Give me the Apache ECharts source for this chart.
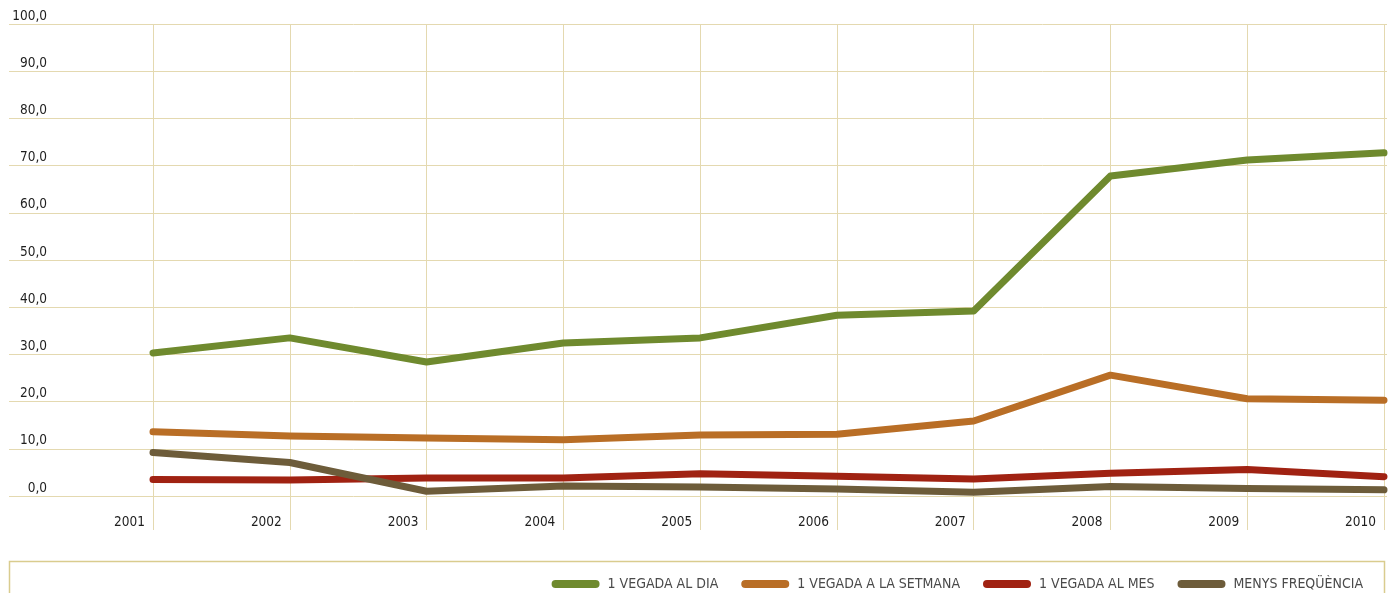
<!DOCTYPE html>
<html><head><meta charset="utf-8">
<script src="https://cdn.jsdelivr.net/npm/echarts@6/dist/echarts.min.js"></script>
<style>html,body{margin:0;padding:0;background:#fff}#c{width:1394px;height:593px}</style>
</head><body><div id="c"></div>
<script>
const categories = ['2001','2002','2003','2004','2005','2006','2007','2008','2009','2010'];
const seriesNames = ['1 VEGADA AL DIA','1 VEGADA A LA SETMANA','1 VEGADA AL MES','MENYS FREQÜÈNCIA'];
const diaValues = [30.3, 33.5, 28.4, 32.4, 33.5, 38.3, 39.2, 67.8, 71.2, 72.7];
const setmanaValues = [13.6, 12.7, 12.3, 11.9, 12.9, 13.1, 15.9, 25.6, 20.6, 20.3];
const mesValues = [3.5, 3.4, 3.8, 3.8, 4.7, 4.2, 3.6, 4.8, 5.6, 4.1];
const menysValues = [9.2, 7.1, 1.0, 2.1, 1.9, 1.5, 0.8, 2.0, 1.6, 1.3];
const colors = ['#6f8a2e', '#b96e26', '#a02212', '#6d5c3a'];

const FONT = "'DejaVu Sans Condensed', 'Liberation Sans Narrow', 'Roboto', sans-serif";
const GRID = '#e4d9b0';
const chart = echarts.init(document.getElementById('c'), null, {renderer: 'canvas'});
const allValues = [diaValues, setmanaValues, mesValues, menysValues];
const pill = 'path://M4,0 L44,0 A4,4 0 0 1 44,8 L4,8 A4,4 0 0 1 4,0 Z';

chart.setOption({
  animation: false,
  backgroundColor: '#fff',
  color: colors,
  grid: [
    {left: 9, right: 7, top: 24, bottom: 97},
    {left: 153, right: 10, top: 24, bottom: 97}
  ],
  xAxis: [
    {gridIndex: 0, type: 'value', min: 0, max: 1, show: false},
    {gridIndex: 1, type: 'category', data: categories, boundaryGap: false,
     axisLine: {show: false},
     axisTick: {show: true, length: 34, lineStyle: {color: GRID, width: 1}},
     splitLine: {show: true, lineStyle: {color: GRID, width: 1}},
     axisLabel: {color: '#1e1e1e', fontFamily: FONT, fontSize: 13.5, align: 'right', margin: 19,
       padding: [0, 8, 0, 0], showMinLabel: true, showMaxLabel: true, interval: 0}}
  ],
  yAxis: [
    {gridIndex: 0, type: 'value', min: 0, max: 100, interval: 10,
     axisLine: {show: false}, axisTick: {show: false},
     splitLine: {lineStyle: {color: GRID, width: 1}},
     axisLabel: {inside: true, align: 'right', verticalAlign: 'bottom', margin: 38,
       padding: [0, 0, 1, 0],
       color: '#1e1e1e', fontFamily: FONT, fontSize: 13.5,
       formatter: v => v.toFixed(1).replace('.', ',')}},
    {gridIndex: 1, type: 'value', min: 0, max: 100, interval: 10, show: false}
  ],
  legend: {
    right: 26, top: 572, orient: 'horizontal',
    itemWidth: 48, itemHeight: 8, itemGap: 23,
    icon: pill,
    data: seriesNames,
    textStyle: {color: '#4a4a4a', fontFamily: FONT, fontSize: 14, padding: [0, 0, 0, 3]}
  },
  graphic: [{
    type: 'rect', silent: true, z: -1,
    shape: {x: 9.5, y: 561.5, width: 1375, height: 60},
    style: {fill: 'none', stroke: '#d9cc8e', lineWidth: 1.5}
  }],
  series: seriesNames.map((n, i) => ({
    name: n, type: 'line', xAxisIndex: 1, yAxisIndex: 1,
    data: allValues[i], showSymbol: false, symbol: 'none',
    lineStyle: {width: 7, color: colors[i], cap: 'round', join: 'round'},
    itemStyle: {color: colors[i]}
  }))
});
</script></body></html>
